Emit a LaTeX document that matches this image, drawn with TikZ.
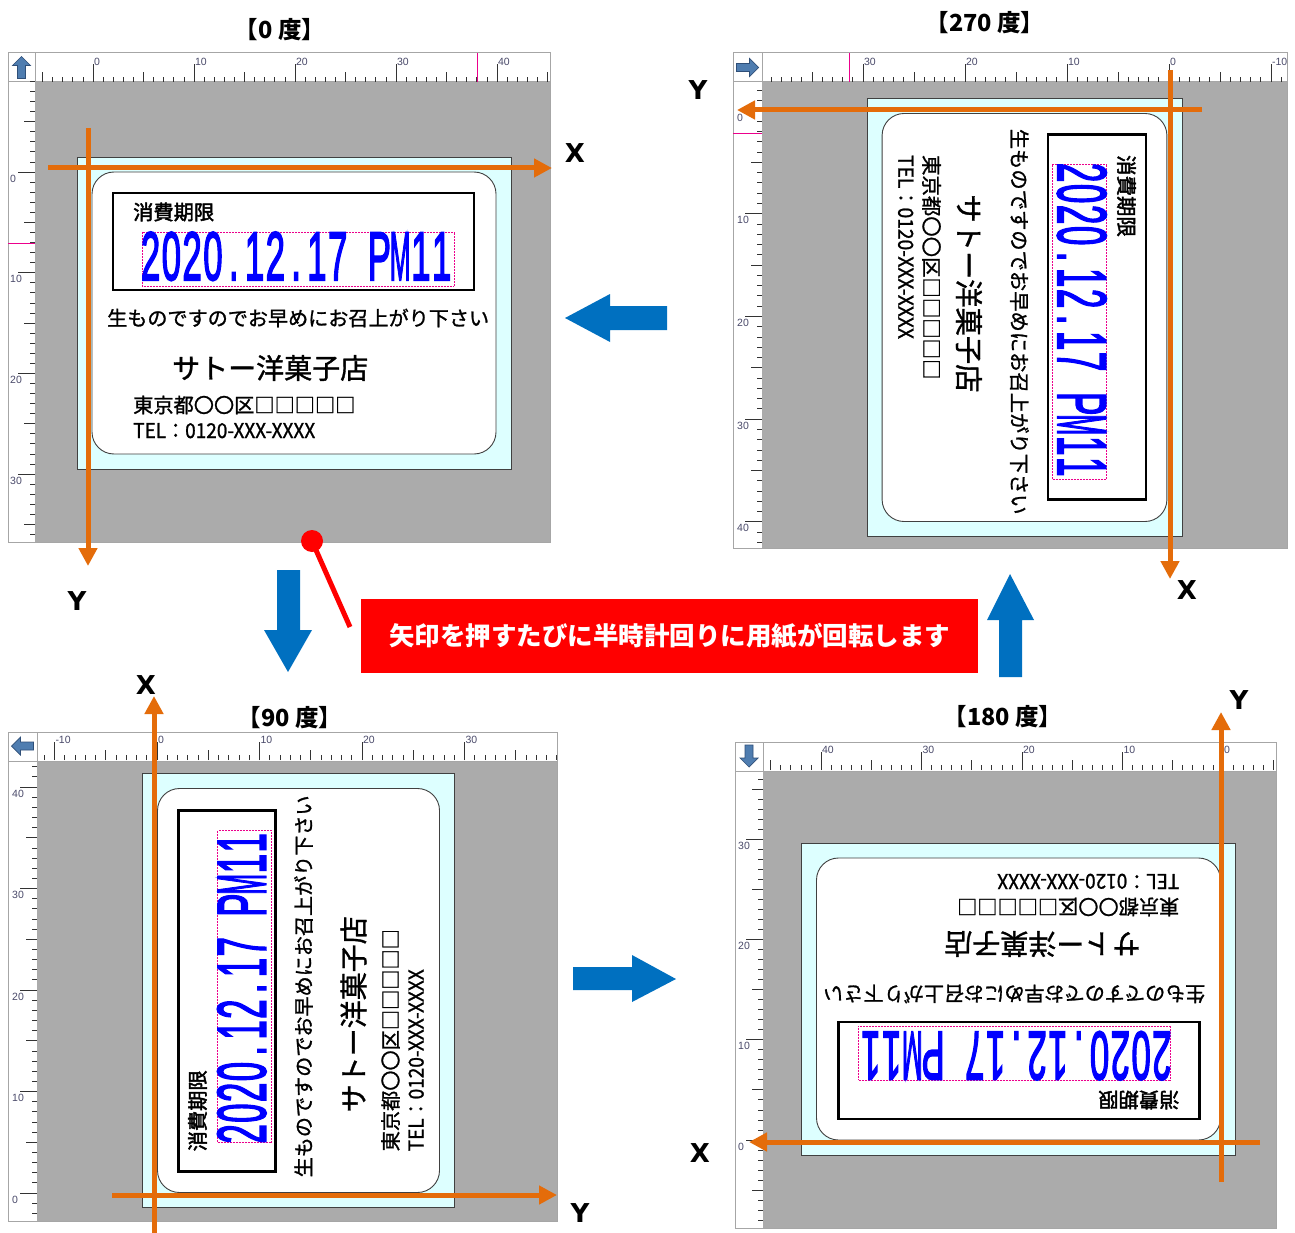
\documentclass[tikz,border=0pt]{standalone}
\usepackage{fontspec}
\setmainfont{Liberation Sans}
\newfontfamily\jpf{Noto Sans CJK JP}
\newfontfamily\jpm{Noto Sans CJK JP}[FakeBold=1.2]
\newfontfamily\jph{Noto Sans CJK JP}[FakeBold=2.2]
\newfontfamily\dvf{DejaVu Sans}
\newfontfamily\datef{Liberation Sans}[FakeBold=3]
\usetikzlibrary{arrows.meta}
\definecolor{orax}{HTML}{E46C0A}
\definecolor{bluearr}{HTML}{0070C0}
\definecolor{grayarea}{HTML}{ABABAB}
\definecolor{paper}{HTML}{DDFFFF}
\definecolor{rnumc}{HTML}{4A4A6A}
\definecolor{iconblue}{HTML}{4F7DB0}
\definecolor{icondark}{HTML}{2F4F78}
\definecolor{calred}{HTML}{FF0000}
\definecolor{datablue}{HTML}{0000FF}
\tikzset{
  tickln/.style={draw=black!80, line width=0.8pt},
  rnum/.style={font=\fontsize{10.5}{10.5}\selectfont, text=rnumc, inner sep=0pt},
  axisline/.style={draw=orax, line width=5pt, -{Triangle[length=18pt,width=18pt]}},
  axislabel/.style={font=\dvf\bfseries\fontsize{26}{26}\selectfont, inner sep=0pt},
  titlelbl/.style={font=\jpf\bfseries\fontsize{23.5}{23.5}\selectfont, inner sep=0pt},
  blockarrow/.style={fill=bluearr, draw=none},
  jptext/.style={inner sep=0pt, transform shape, anchor=west},
  panelline/.style={draw=black!35, line width=1pt},
  marker/.style={draw=magenta, line width=1pt},
  calloutbox/.style={fill=calred, draw=none, minimum width=617pt, minimum height=74pt, inner sep=0pt,
     text=white, font=\jpf\bfseries\fontsize{25.5}{25.5}\selectfont},
}
\newcommand\dcell[1]{\makebox[0.6em][c]{#1}}
\newcommand\datestr{\dcell{2}\dcell{0}\dcell{2}\dcell{0}\dcell{.}\dcell{1}\dcell{2}\dcell{.}\dcell{1}\dcell{7}\dcell{\ }\dcell{P}\dcell{\scalebox{0.72}[1]{M}}\dcell{1}\dcell{1}}
% panel: x1 y1 x2 y2 rulerwidth
\newcommand\drawpanel[5]{%
  \fill[white] (#1,#2) rectangle (#3,#4);
  \fill[grayarea] (#1+#5,#2+29) rectangle (#3,#4);
  \draw[panelline] (#1,#2) rectangle (#3,#4);
  \draw[panelline] (#1,#2+29) -- (#3,#2+29);
  \draw[panelline] (#1+#5,#2) -- (#1+#5,#2+29);
}
% top ruler: prefix, x0, signed step, vmin, vmax, ybottom
\newcommand\rulertop[6]{%
  \foreach \v in {#4,...,#5}{%
    \pgfmathsetmacro\xx{#2+(#3)*\v}%
    \pgfmathtruncatemacro\mten{mod(abs(\v),10)}%
    \pgfmathtruncatemacro\mfive{mod(abs(\v),5)}%
    \pgfmathtruncatemacro\vid{\v+100}%
    \ifnum\mten=0
      \draw[tickln] (\xx,#6) -- (\xx,#6-18);
      \node[rnum, anchor=north west] (#1\vid) at (\xx+0.8,#6-24) {\v};
    \else\ifnum\mfive=0
      \draw[tickln] (\xx,#6) -- (\xx,#6-10);
    \else
      \draw[tickln] (\xx,#6) -- (\xx,#6-5);
    \fi\fi
  }}
% left ruler: prefix, y0, signed step, vmin, vmax, xright
\newcommand\rulerleft[6]{%
  \foreach \v in {#4,...,#5}{%
    \pgfmathsetmacro\yy{#2+(#3)*\v}%
    \pgfmathtruncatemacro\mten{mod(abs(\v),10)}%
    \pgfmathtruncatemacro\mfive{mod(abs(\v),5)}%
    \pgfmathtruncatemacro\vid{\v+100}%
    \ifnum\mten=0
      \draw[tickln] (#6,\yy) -- (#6-17,\yy);
      \node[rnum, anchor=north west] (#1\vid) at (#6-25,\yy+2.5) {\v};
    \else\ifnum\mfive=0
      \draw[tickln] (#6,\yy) -- (#6-11,\yy);
    \else
      \draw[tickln] (#6,\yy) -- (#6-5,\yy);
    \fi\fi
  }}
% corner icon: cx cy angle
\newcommand\cornericon[3]{%
  \begin{scope}[shift={(#1,#2)}, rotate=#3]
    \filldraw[fill=iconblue, draw=icondark, line width=0.7pt]
      (0,-11) -- (9,-2) -- (4,-2) -- (4,11) -- (-4,11) -- (-4,-2) -- (-9,-2) -- cycle;
  \end{scope}}
% label body in local coords (y down), prefix
\newcommand\labelbody[1]{%
  \filldraw[fill=paper, draw=black!75, line width=0.9pt] (-217,-156) rectangle (217,156);
  \filldraw[fill=white, draw=black!75, line width=0.9pt, rounded corners=22pt] (-202,-141) rectangle (202,141);
  \draw[black, line width=2.4pt] (-181,-120) rectangle (180,-23);
  \draw[magenta, densely dotted, line width=0.5pt] (-152,-81) rectangle (160,-27);
  \node[jptext, font=\jph\fontsize{20}{20}\selectfont] (#1a) at (-161,-101) {\resizebox{81pt}{!}{消費期限}};
  \node[transform shape, inner sep=0pt, anchor=base west, text=datablue] (#1b) at (-154,-33)
     {\resizebox{312pt}{48pt}{\datef\datestr}};
  \node[jptext, font=\jpm\fontsize{20.1}{20.1}\selectfont] (#1c) at (-187,5) {生ものですのでお早めにお召上がり下さい};
  \node[jptext, font=\jpm\fontsize{28}{28}\selectfont] (#1d) at (-122,55) {サトー洋菓子店};
  \node[jptext, font=\jpm\fontsize{20.2}{20.2}\selectfont] (#1e) at (-161,92) {東京都〇〇区□□□□□};
  \node[transform shape, inner sep=0pt, anchor=base west] (#1f) at (-161,125)
     {\resizebox{182pt}{15pt}{\jpm TEL：0120-XXX-XXXX}};
}
\begin{document}
\begin{tikzpicture}[x=1pt,y=-1pt]
\useasboundingbox[fill=white] (0,0) rectangle (1295,1233);

% ---------------- Panel 1 (0 deg)
\drawpanel{8}{53}{550}{542}{27}
\begin{scope}\clip (35,53) rectangle (550,82); \rulertop{pa}{93}{10.1}{-6}{46}{82} \end{scope}
\begin{scope}\clip (8,82) rectangle (35,542); \rulerleft{pb}{172}{10.07}{-9}{37}{35} \end{scope}
\draw[marker] (477,53) -- (477,82);
\draw[marker] (8,244) -- (35,244);
\cornericon{21.5}{67.5}{0}
\begin{scope}[shift={(294,313)}, rotate=0]\labelbody{la}\end{scope}
\coordinate (a1s) at (48,168); \coordinate (a1e) at (552,168);
\coordinate (a2s) at (88,128); \coordinate (a2e) at (88,566);
\draw[axisline] (a1s) -- (a1e);
\draw[axisline] (a2s) -- (a2e);
\node[axislabel] (xa) at (575,153) {X};
\node[axislabel] (ya) at (77,601) {Y};
\node[titlelbl] (ta) at (280,30) {【0 度】};

% ---------------- Panel 2 (270 deg)
\drawpanel{733}{53}{1287}{548}{29}
\begin{scope}\clip (762,53) rectangle (1287,82); \rulertop{pc}{1169}{-10.2}{-12}{39}{82} \end{scope}
\begin{scope}\clip (733,82) rectangle (762,548); \rulerleft{pd}{111}{10.27}{-3}{43}{762} \end{scope}
\draw[marker] (849,53) -- (849,82);
\draw[marker] (733,134) -- (762,134);
\cornericon{747.5}{67.5}{-90}
\begin{scope}[shift={(1024.5,317.5)}, rotate=-90, scale=1.01]\labelbody{lb}\end{scope}
\coordinate (b1s) at (1202,110); \coordinate (b1e) at (737,110);
\coordinate (b2s) at (1170,70); \coordinate (b2e) at (1170,579);
\draw[axisline] (b1s) -- (b1e);
\draw[axisline] (b2s) -- (b2e);
\node[axislabel] (yb) at (698,90) {Y};
\node[axislabel] (xb) at (1187,590) {X};
\node[titlelbl] (tb) at (985,23) {【270 度】};

% ---------------- Panel 3 (90 deg)
\drawpanel{8}{732}{557}{1221}{29}
\begin{scope}\clip (37,732) rectangle (557,760); \rulertop{pe}{157}{10.25}{-12}{41}{760} \end{scope}
\begin{scope}\clip (8,760) rectangle (37,1221); \rulerleft{pf}{1193}{-10.15}{-3}{43}{37} \end{scope}
\cornericon{22.5}{746}{90}
\begin{scope}[shift={(298.5,990.5)}, rotate=90]\labelbody{lc}\end{scope}
\coordinate (c1s) at (154,1233); \coordinate (c1e) at (154,696);
\coordinate (c2s) at (112,1195); \coordinate (c2e) at (557,1195);
\draw[axisline] (c1s) -- (c1e);
\draw[axisline] (c2s) -- (c2e);
\node[axislabel] (xc) at (146,685) {X};
\node[axislabel] (yc) at (580,1213) {Y};
\node[titlelbl] (tc) at (290,718) {【90 度】};

% ---------------- Panel 4 (180 deg)
\drawpanel{735}{742}{1276}{1228}{28}
\begin{scope}\clip (763,742) rectangle (1276,770); \rulertop{pg}{1223}{-10.05}{-6}{47}{770} \end{scope}
\begin{scope}\clip (735,770) rectangle (763,1228); \rulerleft{ph}{1140}{-10.03}{-9}{38}{763} \end{scope}
\cornericon{749}{756}{180}
\begin{scope}[shift={(1018.5,999)}, rotate=180]\labelbody{ld}\end{scope}
\coordinate (d1s) at (1260,1142); \coordinate (d1e) at (749,1142);
\coordinate (d2s) at (1221,1182); \coordinate (d2e) at (1221,712);
\draw[axisline] (d1s) -- (d1e);
\draw[axisline] (d2s) -- (d2e);
\node[axislabel] (xd) at (700,1153) {X};
\node[axislabel] (yd) at (1239,700) {Y};
\node[titlelbl] (td) at (1003,717) {【180 度】};

% ---------------- Blue block arrows
\fill[blockarrow] (565,318) -- (610,294) -- (610,306) -- (667,306) -- (667,330) -- (610,330) -- (610,342) -- cycle;
\fill[blockarrow] (288,672) -- (264,630) -- (277,630) -- (277,570) -- (300,570) -- (300,630) -- (312,630) -- cycle;
\fill[blockarrow] (676,979) -- (632,955) -- (632,967) -- (573,967) -- (573,990) -- (632,990) -- (632,1002) -- cycle;
\fill[blockarrow] (1010,574) -- (1034,620) -- (1022,620) -- (1022,677) -- (999,677) -- (999,620) -- (987,620) -- cycle;

% ---------------- Red callout
\node[calloutbox] (cbox) at (669.5,636) {矢印を押すたびに半時計回りに用紙が回転します};
\coordinate (dot) at (312,541);
\coordinate (lend) at (350,627);
\draw[calred, line width=5pt] (dot) -- (lend);
\fill[calred] (dot) circle[radius=11pt];
\end{tikzpicture}
\end{document}
